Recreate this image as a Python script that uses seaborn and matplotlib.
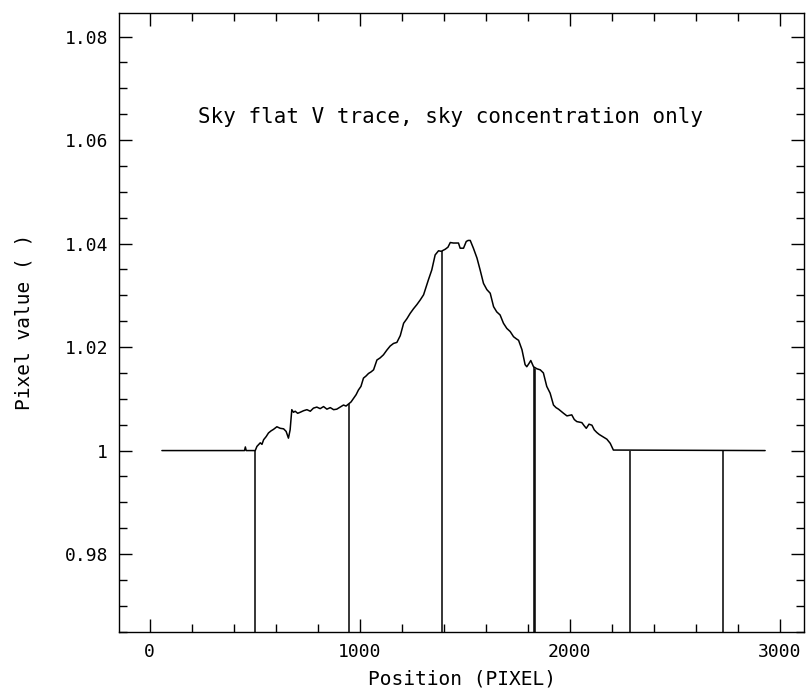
import numpy as np
import pandas as pd
import matplotlib
matplotlib.use("Agg")
import matplotlib.pyplot as plt
from matplotlib.ticker import MultipleLocator, FixedLocator, FixedFormatter
import seaborn as sns

# ---- data ----
trace_x = [59, 440, 452, 456, 460, 503, 511, 527, 535, 543, 555, 566, 578, 590, 606, 622, 638, 650, 661, 669,
           677, 685, 693, 705, 717, 733, 749, 765, 780, 796, 812, 828, 844, 860, 876, 891, 907, 923, 935, 947,
           959, 971, 983, 994, 1006, 1018, 1030, 1042, 1054, 1066, 1082, 1097, 1113, 1129, 1145, 1161, 1177, 1193,
           1209, 1225, 1240, 1256, 1272, 1288, 1304, 1316, 1327, 1343, 1359, 1375, 1388, 1407, 1420, 1431, 1446,
           1460, 1470, 1478, 1494, 1507, 1516, 1526, 1541, 1558, 1573, 1589, 1605, 1621, 1637, 1652, 1668, 1684,
           1700, 1716, 1732, 1745, 1756, 1772, 1787, 1795, 1805, 1814, 1827, 1843, 1859, 1874, 1890, 1906, 1922,
           1934, 1946, 1958, 1970, 1986, 2009, 2021, 2033, 2045, 2057, 2068, 2078, 2091, 2105, 2116, 2128, 2140,
           2152, 2164, 2176, 2192, 2207, 2929]
trace_y = [1.0, 1.0, 1.0, 1.0007, 1.0, 1.0, 1.0008, 1.0015, 1.0012, 1.0021, 1.0027, 1.0034, 1.0038, 1.0041,
           1.0046, 1.0043, 1.0042, 1.0037, 1.0024, 1.0040,
           1.0079, 1.0074, 1.0076, 1.0072, 1.0074, 1.0077, 1.0079, 1.0076, 1.0082, 1.0084, 1.0081, 1.0085, 1.0080,
           1.0083, 1.0079, 1.0080, 1.0084, 1.0088, 1.0086, 1.0090,
           1.0094, 1.0101, 1.0108, 1.0117, 1.0124, 1.0140, 1.0144, 1.0149, 1.0152, 1.0156, 1.0175, 1.0179, 1.0185,
           1.0194, 1.0202, 1.0207, 1.0209, 1.0222,
           1.0246, 1.0255, 1.0265, 1.0274, 1.0282, 1.0291, 1.0301, 1.0316, 1.0330, 1.0349, 1.0378, 1.0386, 1.0385,
           1.0389, 1.0393, 1.0402, 1.0401,
           1.0401, 1.0401, 1.0391, 1.0391, 1.0404, 1.0406, 1.0406, 1.0391, 1.0372, 1.0349, 1.0323, 1.0311, 1.0304,
           1.0278, 1.0268, 1.0262, 1.0246,
           1.0236, 1.0230, 1.0220, 1.0216, 1.0213, 1.0195, 1.0166, 1.0162, 1.0168, 1.0174, 1.0162, 1.0158, 1.0156,
           1.0150, 1.0124, 1.0111, 1.0088,
           1.0083, 1.0080, 1.0076, 1.0072, 1.0067, 1.0069, 1.0060, 1.0056, 1.0055, 1.0054, 1.0048, 1.0043, 1.0051,
           1.0049, 1.0040, 1.0035, 1.0031,
           1.0028, 1.0025, 1.0022, 1.0014, 1.0001, 1.0]

gap_x = [503, 947, 1390, 1830, 1836, 2284, 2728]
gap_top = [1.0, 1.0090, 1.0385, 1.0162, 1.0158, 1.0, 1.0]

xticks = [0, 1000, 2000, 3000]
xtick_labels = ["0", "1000", "2000", "3000"]
yticks = [0.98, 1.00, 1.02, 1.04, 1.06, 1.08]
ytick_labels = ["0.98", "1", "1.02", "1.04", "1.06", "1.08"]

title_text = "Sky flat V trace, sky concentration only"
xlabel = "Position (PIXEL)"
ylabel = "Pixel value ( )"

XLIM = (-145, 3114)
YLIM = (0.965, 1.0846)

# ---- plotting ----
sns.set_theme(style="ticks")
plt.rcParams["font.family"] = ["DejaVu Sans Mono"]

fig = plt.figure(figsize=(8.07, 6.91), dpi=100)
ax = fig.add_axes([0.1475, 0.0858, 0.8488, 0.8958])

df = pd.DataFrame({"x": trace_x, "y": trace_y})
sns.lineplot(data=df, x="x", y="y", sort=False, estimator=None, color="black", linewidth=1.1, ax=ax)

ax.vlines(gap_x, YLIM[0] - 0.01, gap_top, color="black", linewidth=1.1)

ax.set_xlim(*XLIM)
ax.set_ylim(*YLIM)

ax.xaxis.set_major_locator(FixedLocator(xticks))
ax.xaxis.set_major_formatter(FixedFormatter(xtick_labels))
ax.xaxis.set_minor_locator(MultipleLocator(200))
ax.yaxis.set_major_locator(FixedLocator(yticks))
ax.yaxis.set_major_formatter(FixedFormatter(ytick_labels))
ax.yaxis.set_minor_locator(MultipleLocator(0.005))

ax.tick_params(which="both", direction="in", top=True, right=True, colors="black",
               labelsize=13, width=1.0)
ax.tick_params(which="major", length=9.7, pad=8)
ax.tick_params(which="minor", length=6)

for s in ax.spines.values():
    s.set_visible(True)
    s.set_color("black")
    s.set_linewidth(1.0)

ax.set_xlabel(xlabel, fontsize=14, labelpad=6, color="black")
ax.set_ylabel(ylabel, fontsize=14, labelpad=22, color="black")

ax.text(1432, 1.0645, title_text, ha="center", va="center", fontsize=15, color="black")

fig.savefig("out.png", dpi=100, facecolor="white")
